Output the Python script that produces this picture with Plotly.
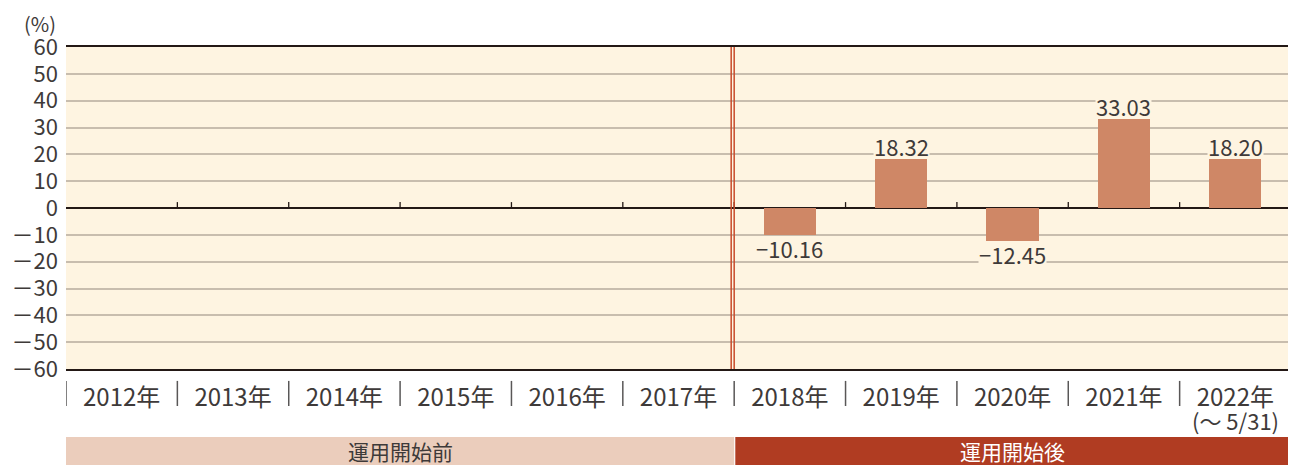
import plotly.graph_objects as go

categories = ["2012年", "2013年", "2014年", "2015年", "2016年", "2017年",
              "2018年", "2019年", "2020年", "2021年", "2022年"]
tick_labels = ["2012年", "2013年", "2014年", "2015年", "2016年", "2017年",
               "2018年", "2019年", "2020年", "2021年", "2022年"]
last_label_note = "(～ 5/31)"
values = [None, None, None, None, None, None, -10.16, 18.32, -12.45, 33.03, 18.20]
value_labels = ["", "", "", "", "", "", "−10.16", "18.32", "−12.45", "33.03", "18.20"]
y_ticks = [60, 50, 40, 30, 20, 10, 0, -10, -20, -30, -40, -50, -60]
y_tick_text = ["60", "50", "40", "30", "20", "10", "0", "－10", "－20", "－30", "－40", "－50", "－60"]
period_labels = ["運用開始前", "運用開始後"]

FONT = "Noto Sans CJK JP"
DARK = "#231815"
TXT = "#3e3a39"
CREAM = "#fef4e1"
GRID = "#c8bdae"
BAR = "#cf8766"
RED = "#c84a2a"

fig = go.Figure()
fig.add_trace(go.Bar(x=list(range(len(categories))), y=values, width=0.47,
                     marker=dict(color=BAR, line=dict(width=0)),
                     hoverinfo="skip"))

n = len(categories)
shapes = []
# small ticks on zero line at category boundaries
for i in range(n):
    b = i + 0.5
    shapes.append(dict(type="line", xref="x", yref="y", x0=b, x1=b, y0=0, y1=2.2,
                       line=dict(color=DARK, width=1.3)))
# separators in label area
for i in range(n + 1):
    b = i - 0.5
    shapes.append(dict(type="line", xref="x", yref="paper", x0=b, x1=b, y0=-0.037, y1=-0.115,
                       line=dict(color="#595757", width=1.5)))
# double red line between 2017 and 2018
for off in (-3, 0):
    shapes.append(dict(type="line", xref="x", yref="y", xsizemode="pixel", xanchor=5.5,
                       x0=off, x1=off, y0=-60, y1=60, line=dict(color=RED, width=1.5)))
# bottom bands
shapes.append(dict(type="rect", xref="x", yref="paper", x0=-0.5, x1=5.5, y0=-0.31, y1=-0.211,
                   line=dict(width=0), fillcolor="#ebcdbc", layer="below"))
shapes.append(dict(type="rect", xref="x", yref="paper", x0=5.51, x1=10.5, y0=-0.31, y1=-0.211,
                   line=dict(width=0), fillcolor="#b03c22", layer="below"))

annotations = []
for i, (v, t) in enumerate(zip(values, value_labels)):
    if v is None:
        continue
    annotations.append(dict(x=i, y=v, xref="x", yref="y", text=t, showarrow=False,
                            yanchor="bottom" if v > 0 else "top",
                            yshift=1 if v > 0 else -1, height=22, valign="middle",
                            bgcolor=CREAM, borderpad=0,
                            font=dict(family=FONT, size=22, color=TXT)))
annotations.append(dict(x=n - 1, y=-0.158, xref="x", yref="paper", text=last_label_note,
                        showarrow=False, yanchor="middle",
                        font=dict(family=FONT, size=22, color=TXT)))
annotations.append(dict(x=2.5, y=-0.255, xref="x", yref="paper", text=period_labels[0],
                        showarrow=False, yanchor="middle",
                        font=dict(family=FONT, size=21, color=TXT)))
annotations.append(dict(x=8.0, y=-0.255, xref="x", yref="paper", text=period_labels[1],
                        showarrow=False, yanchor="middle",
                        font=dict(family=FONT, size=21, color="white")))
annotations.append(dict(x=-0.0212, y=1.072, xref="paper", yref="paper",
                        xanchor="center", yanchor="middle",
                        text="(%)", showarrow=False,
                        font=dict(family=FONT, size=20, color=TXT)))

# page body has an 8px margin, so the figure is sized to fit the 1296x465 window
fig.update_layout(
    width=1288, height=457,
    margin=dict(l=58, r=5, t=39, b=96, autoexpand=False),
    paper_bgcolor="white", plot_bgcolor=CREAM,
    showlegend=False, shapes=shapes, annotations=annotations,
    font=dict(family=FONT, color=TXT),
    bargap=0,
)
fig.update_xaxes(range=[-0.5, n - 0.5], tickmode="array",
                 tickvals=list(range(n)), ticktext=tick_labels,
                 tickfont=dict(family=FONT, size=24, color=TXT),
                 showgrid=False, showline=True, mirror=True, linecolor=DARK, linewidth=1.5,
                 ticks="", ticklabelstandoff=6, zeroline=False, automargin=False)
fig.update_yaxes(range=[-60, 60], tickmode="array", tickvals=y_ticks, ticktext=y_tick_text,
                 tickfont=dict(family=FONT, size=22, color=TXT),
                 showgrid=True, gridcolor=GRID, gridwidth=1.5,
                 zeroline=True, zerolinecolor=DARK, zerolinewidth=1.5,
                 showline=False, ticks="", ticklabelstandoff=7, automargin=False)

fig.write_html("out.html")
